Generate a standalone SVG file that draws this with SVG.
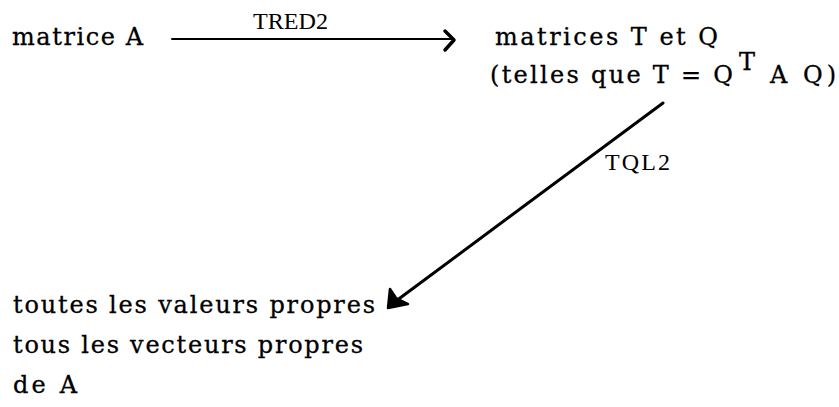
<svg xmlns="http://www.w3.org/2000/svg" width="839" height="407" viewBox="0 0 839 407">
<style>
.t{font-family:"DejaVu Serif","Liberation Serif",serif;font-size:24px;fill:#000;stroke:#000;stroke-width:0.3}
.l{font-family:"Liberation Serif","Times New Roman",serif;font-size:24px;fill:#000}
.c{stroke:#000;fill:none;stroke-linecap:round}
</style>
<rect width="839" height="407" fill="#fff"/>
<g id="node-matriceA"><text class="t" x="12" y="45" textLength="131" lengthAdjust="spacing">matrice A</text></g>
<g id="node-TQ">
<text class="t" x="495" y="45" textLength="223" lengthAdjust="spacing">matrices T et Q</text>
<text class="t" x="490" y="83" textLength="243" lengthAdjust="spacing">(telles que T = Q</text>
<text class="t" x="739" y="70">T</text>
<text class="t" x="770" y="83">A</text>
<text class="t" x="803" y="83" textLength="33" lengthAdjust="spacing">Q)</text>
</g>
<g id="node-result">
<text class="t" x="13" y="313" textLength="362" lengthAdjust="spacing">toutes les valeurs propres</text>
<text class="t" x="13" y="353" textLength="350" lengthAdjust="spacing">tous les vecteurs propres</text>
<text class="t" x="13" y="393" textLength="64" lengthAdjust="spacing">de A</text>
</g>
<g id="connectors">
<line class="c" x1="172" y1="39" x2="452" y2="39" stroke-width="2"/>
<path d="M445,31 L454,40 L445,50" class="c" stroke-width="3.5" stroke-linejoin="round"/>
<text class="l" x="253" y="29" textLength="75" lengthAdjust="spacingAndGlyphs">TRED2</text>
<line class="c" x1="663" y1="103" x2="396" y2="301" stroke-width="3"/>
<path d="M388,308 L390,289 L396,298 L408,304 Z" fill="#000" stroke="#000" stroke-width="2.5" stroke-linejoin="round"/>
<text class="l" x="605" y="170" textLength="65" lengthAdjust="spacing">TQL2</text>
</g>
</svg>
